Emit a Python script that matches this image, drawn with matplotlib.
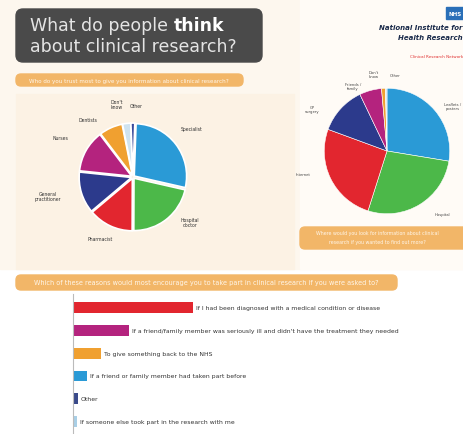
import matplotlib
matplotlib.use('Agg')
import matplotlib.pyplot as plt
from matplotlib.patches import FancyBboxPatch, Rectangle

# Left pie: who people trust most
trust_labels = ['Specialist', 'Hospital\ndoctor', 'Pharmacist', 'General\npractitioner',
                'Nurses', 'Dentists', "Don't\nknow", 'Other']
trust_values = [28, 21.5, 13.8, 12.8, 13, 7.2, 2.5, 1.2]
trust_colors = ['#2a9ad6', '#4cb849', '#e2262f', '#2c3a8c', '#b4237e', '#f0a030', '#cfe3f0', '#3a4a9a']

# Right pie: where people look for information
source_labels = ['Leaflets /\nposters', 'Hospital', 'Internet', 'GP\nsurgery',
                 'Friends /\nfamily', "Don't\nknow", 'Other']
source_values = [27.6, 27.3, 25.7, 12.3, 5.7, 1.0, 0.4]
source_colors = ['#2a9ad6', '#4cb849', '#e2262f', '#2c3a8c', '#b4237e', '#f0a030', '#cfe3f0']

# Bars: reasons for taking part
reasons = ['If I had been diagnosed with a medical condition or disease',
           "If a friend/family member was seriously ill and didn't have the treatment they needed",
           'To give something back to the NHS',
           'If a friend or family member had taken part before',
           'Other',
           'If someone else took part in the research with me']
reason_values = [48, 22.5, 11, 5.5, 2, 1.5]
reason_colors = ['#e2262f', '#b4237e', '#f0a030', '#2a9ad6', '#3a4a8a', '#a9cfe6']

# label spots for the pies (pixels from top-left)
trust_label_xy = [(192, 130), (190, 223), (100, 240), (48, 197),
                  (60, 139), (88, 121), (117, 105), (136, 106)]
source_label_xy = [(453, 107), (442, 215), (303, 175), (312, 110),
                   (353, 87), (374, 75), (395, 76)]

fig = plt.figure(figsize=(4.64, 4.35), dpi=100)
fig.patch.set_facecolor('white')

# background layer in pixel coordinates
bg = fig.add_axes([0, 0, 1, 1])
bg.set_xlim(0, 464)
bg.set_ylim(435, 0)
bg.axis('off')
bg.add_patch(Rectangle((0, 0), 464, 270, color='#fdf7ee', zorder=0))
bg.add_patch(Rectangle((300, 0), 164, 270, color='#fffbf6', zorder=0))
bg.add_patch(Rectangle((16, 95), 278, 175, color='#fcf2e4', zorder=0))

# title box
bg.add_patch(FancyBboxPatch((16, 10), 246, 53, boxstyle='round,pad=0,rounding_size=7',
                            color='#4a4a4a', zorder=1))
t1 = bg.text(30, 26, 'What do people ', color='#e4e4e4', fontsize=12.5, va='center', zorder=2)
bg.annotate('think', xy=(1, 0.5), xycoords=t1, color='white', fontsize=12.5,
            fontweight='bold', va='center', ha='left', zorder=2)
bg.text(30, 47, 'about clinical research?', color='#e4e4e4', fontsize=12.5, va='center', zorder=2)

orange = '#f2b668'
bg.add_patch(FancyBboxPatch((16, 75), 227, 12, boxstyle='round,pad=0,rounding_size=5',
                            color=orange, zorder=1))
bg.text(129, 81, 'Who do you trust most to give you information about clinical research?',
        color='#fff6ea', fontsize=4.1, ha='center', va='center', zorder=2)

bg.add_patch(FancyBboxPatch((300, 228), 170, 22, boxstyle='round,pad=0,rounding_size=5',
                            color=orange, zorder=1))
bg.text(377, 234, 'Where would you look for information about clinical',
        color='#fff6ea', fontsize=3.4, ha='center', va='center', zorder=2)
bg.text(377, 243, 'research if you wanted to find out more?',
        color='#fff6ea', fontsize=3.4, ha='center', va='center', zorder=2)

bg.add_patch(FancyBboxPatch((16, 276), 381, 15, boxstyle='round,pad=0,rounding_size=5',
                            color=orange, zorder=1))
bg.text(206, 283.5, 'Which of these reasons would most encourage you to take part in clinical research if you were asked to?',
        color='#fff6ea', fontsize=4.7, ha='center', va='center', zorder=2)

# NIHR logo
bg.add_patch(Rectangle((446, 8), 18, 12, color='#2a6fb8', zorder=1))
bg.text(455, 14, 'NHS', color='white', fontsize=4, fontweight='bold', ha='center', va='center', zorder=2)
bg.text(463, 28, 'National Institute for', color='#1a2a4a', fontsize=5, fontweight='bold',
        fontstyle='italic', ha='right', va='center', zorder=2)
bg.text(463, 38, 'Health Research', color='#1a2a4a', fontsize=5, fontweight='bold',
        fontstyle='italic', ha='right', va='center', zorder=2)
bg.text(463, 57, 'Clinical Research Network', color='#e03030', fontsize=3, ha='right',
        va='center', zorder=2)

# left pie
ax1 = fig.add_axes([78 / 464, 1 - 233 / 435, 110 / 464, 110 / 435])
ax1.pie(trust_values, colors=trust_colors, startangle=88, counterclock=False,
        explode=[0.03] * len(trust_values),
        wedgeprops=dict(edgecolor='white', linewidth=1.2))
ax1.set_xlim(-1.05, 1.05)
ax1.set_ylim(-1.05, 1.05)
ax1.set_aspect('equal')
for lab, (x, y) in zip(trust_labels, trust_label_xy):
    bg.text(x, y, lab, fontsize=3.3, color='#333333', ha='center', va='center',
            linespacing=1.0, zorder=3)

# right pie
ax2 = fig.add_axes([323 / 464, 1 - 216 / 435, 128 / 464, 128 / 435])
ax2.pie(source_values, colors=source_colors, startangle=90, counterclock=False,
        wedgeprops=dict(edgecolor='white', linewidth=0.4))
ax2.set_xlim(-1.02, 1.02)
ax2.set_ylim(-1.02, 1.02)
ax2.set_aspect('equal')
for lab, (x, y) in zip(source_labels, source_label_xy):
    bg.text(x, y, lab, fontsize=2.7, color='#444444', ha='center', va='center',
            linespacing=1.0, zorder=3)

# bar chart
ax3 = fig.add_axes([73 / 464, 0, 391 / 464, 140 / 435])
ypos = list(range(len(reasons)))
ax3.barh(ypos, reason_values, height=0.47, color=reason_colors)
for y, v, lab in zip(ypos, reason_values, reasons):
    ax3.text(v + 1.2, y, lab, fontsize=4.4, color='#333333', va='center')
ax3.set_xlim(0, 156)
ax3.set_ylim(5.55, -0.6)
ax3.set_facecolor('none')
for s in ['top', 'right', 'bottom']:
    ax3.spines[s].set_visible(False)
ax3.spines['left'].set_color('#bbbbbb')
ax3.spines['left'].set_linewidth(0.8)
ax3.set_xticks([])
ax3.set_yticks([])

fig.savefig('out.png', dpi=100, facecolor=fig.get_facecolor())
